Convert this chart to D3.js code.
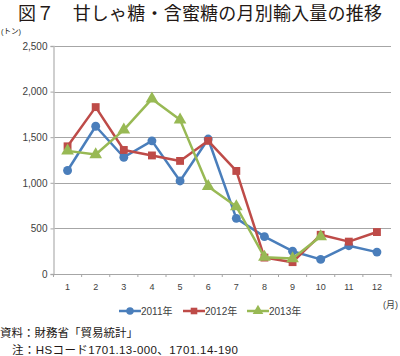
<!DOCTYPE html>
<html><head><meta charset="utf-8">
<script src="https://cdn.jsdelivr.net/npm/d3@7"></script>
<style>
body{margin:0;background:#fff;}
svg{display:block;}
text{font-family:"Liberation Sans","Noto Sans CJK JP",sans-serif;}
</style></head>
<body>
<script>
const months = ["1","2","3","4","5","6","7","8","9","10","11","12"];
const s2011 = [1135,1620,1280,1460,1020,1480,610,410,250,160,310,240];
const s2012 = [1400,1830,1360,1300,1240,1460,1130,180,130,430,355,460];
const s2013 = [1350,1310,1580,1920,1690,960,740,185,170,410,null,null];
const seriesNames = ["2011年","2012年","2013年"];
const yTicks = [0,500,1000,1500,2000,2500];
const title = "図７　甘しゃ糖・含蜜糖の月別輸入量の推移";
const notes = ["資料：財務省「貿易統計」","　注：HSコード1701.13-000、1701.14-190"];

const W=400,H=356;
const svg=d3.select("body").append("svg").attr("width",W).attr("height",H);
const L=53.5,R=391,T=46,B=274;
const x=d3.scaleBand().domain(months).range([L,R]);
const y=d3.scaleLinear().domain([0,2500]).range([B,T]);

svg.append("text").attr("x",18).attr("y",20).attr("font-size",18).attr("fill","#231815")
  .attr("font-family","Noto Sans CJK JP").attr("textLength",364).text(title);
svg.append("text").attr("x",1).attr("y",34).attr("font-size",7.5).attr("fill","#231815").text("(トン)");

// gridlines
svg.append("g").selectAll("line").data(yTicks.filter(d=>d>0)).join("line")
  .attr("x1",L).attr("x2",R).attr("y1",d=>Math.round(y(d))+0.5).attr("y2",d=>Math.round(y(d))+0.5)
  .attr("stroke","#a6a6a6").attr("stroke-width",1);

// y axis
const ya=svg.append("g").attr("transform",`translate(${L},0)`)
  .call(d3.axisLeft(y).tickValues(yTicks).tickSize(3).tickPadding(3).tickFormat(d3.format(",")));
ya.select(".domain").attr("stroke","#c0c0c0").attr("stroke-width",1.5);
ya.selectAll(".tick line").attr("stroke","#a6a6a6");
ya.selectAll("text").attr("font-size",10).attr("fill","#404040");

// x axis
const xa=svg.append("g").attr("transform",`translate(0,${B})`)
  .call(d3.axisBottom(x).tickSize(0).tickPadding(10));
xa.select(".domain").attr("stroke","#a6a6a6");
xa.selectAll("text").attr("font-size",9).attr("fill","#404040");
svg.append("g").selectAll("line").data(d3.range(13)).join("line")
  .attr("x1",i=>L+i*x.step()).attr("x2",i=>L+i*x.step()).attr("y1",B).attr("y2",B+3)
  .attr("stroke","#a6a6a6");

const colors=["#4a7ebb","#be4b48","#98b954"];
const data=[s2011,s2012,s2013];
const cx=m=>x(m)+x.bandwidth()/2;
const line=d3.line().defined(d=>d.v!=null).x(d=>cx(d.m)).y(d=>y(d.v));
const sym=[d3.symbolCircle,d3.symbolSquare,d3.symbolTriangle];
const symSize=[62,62,70];

data.forEach((arr,i)=>{
  const pts=arr.map((v,j)=>({m:months[j],v}));
  const g=svg.append("g");
  g.append("path").datum(pts).attr("d",line).attr("fill","none").attr("stroke",colors[i]).attr("stroke-width",2.5).attr("stroke-linejoin","round");
  g.selectAll("path.m").data(pts.filter(d=>d.v!=null)).join("path").attr("class","m")
    .attr("d",d3.symbol().type(sym[i]).size(symSize[i]))
    .attr("transform",d=>`translate(${cx(d.m)},${y(d.v)})`).attr("fill",colors[i]);
});

// legend
const lx=[119,183,247];
seriesNames.forEach((n,i)=>{
  const g=svg.append("g").attr("transform",`translate(${lx[i]},311)`);
  g.append("line").attr("x1",0).attr("x2",22).attr("stroke",colors[i]).attr("stroke-width",2.5);
  g.append("path").attr("d",d3.symbol().type(sym[i]).size(symSize[i]*0.7)).attr("transform","translate(11,0)").attr("fill",colors[i]);
  g.append("text").attr("x",22).attr("y",3.5).attr("font-size",10).attr("fill","#404040").text(n);
});
svg.append("text").attr("x",398).attr("y",308).attr("text-anchor","end").attr("font-size",9).attr("fill","#404040").text("(月)");

svg.append("text").attr("x",0).attr("y",337).attr("font-size",11.5).attr("fill","#231815").attr("textLength",138).text(notes[0]);
svg.append("text").attr("x",0).attr("y",354).attr("font-size",11.5).attr("fill","#231815").attr("textLength",238).text(notes[1]);
</script>
</body></html>
